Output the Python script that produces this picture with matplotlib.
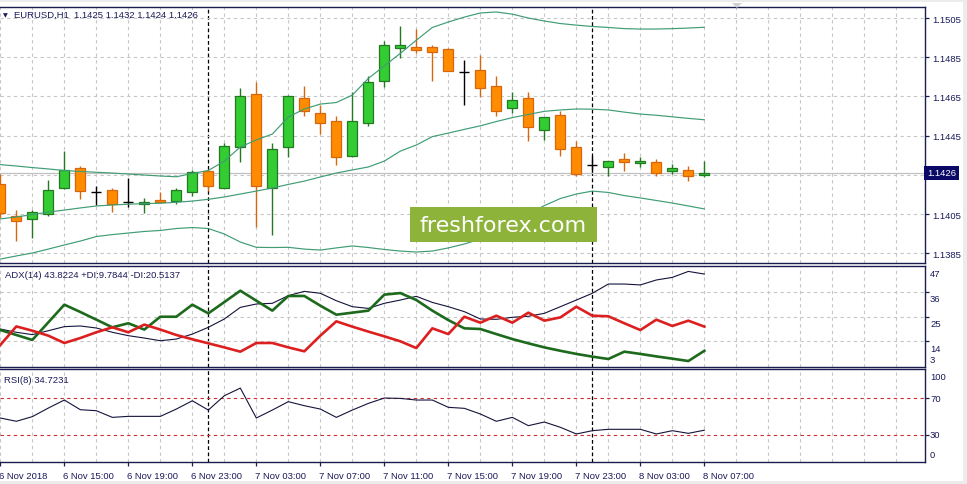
import matplotlib
matplotlib.use("Agg")
import matplotlib.pyplot as plt
import matplotlib.transforms as mtrans
from matplotlib.patches import Rectangle, Polygon

# ---------------- data (EURUSD H1, 6 Nov 11:00 -> 8 Nov 07:00) ----------------
time_labels = ["6 Nov 2018", "6 Nov 15:00", "6 Nov 19:00", "6 Nov 23:00",
               "7 Nov 03:00", "7 Nov 07:00", "7 Nov 11:00", "7 Nov 15:00",
               "7 Nov 19:00", "7 Nov 23:00", "8 Nov 03:00", "8 Nov 07:00"]
label_index = [0, 4, 8, 12, 16, 20, 24, 28, 32, 36, 40, 44]
separator_index = [13, 37]

opens = [1.14203, 1.14041, 1.14023, 1.14050, 1.14181, 1.14283, 1.14164, 1.14171, 1.14110,
         1.14100, 1.14121, 1.14118, 1.14161, 1.14271, 1.14181, 1.14390, 1.14661, 1.14181,
         1.14390, 1.14640, 1.14564, 1.14523, 1.14347, 1.14513, 1.14730, 1.14898, 1.14902,
         1.14902, 1.14892, 1.14773, 1.14785, 1.14702, 1.14589, 1.14642, 1.14480, 1.14555,
         1.14390, 1.14302, 1.14291, 1.14331, 1.14310, 1.14314, 1.14271, 1.14275, 1.14250]
highs = [1.14254, 1.14072, 1.14072, 1.14225, 1.14371, 1.14296, 1.14191, 1.14183, 1.14234,
         1.14130, 1.14164, 1.14183, 1.14276, 1.14276, 1.14411, 1.14693, 1.14722, 1.14411,
         1.14655, 1.14702, 1.14606, 1.14552, 1.14674, 1.14756, 1.14931, 1.15008, 1.14994,
         1.14912, 1.14897, 1.14836, 1.14861, 1.14756, 1.14674, 1.14674, 1.14543, 1.14577,
         1.14421, 1.14344, 1.14319, 1.14360, 1.14342, 1.14331, 1.14305, 1.14296, 1.14320]
lows = [1.14030, 1.13912, 1.13928, 1.14041, 1.14178, 1.14127, 1.14096, 1.14059, 1.14087,
        1.14055, 1.14110, 1.14101, 1.14140, 1.14169, 1.14181, 1.14314, 1.13982, 1.13943,
        1.14339, 1.14552, 1.14458, 1.14302, 1.14339, 1.14500, 1.14700, 1.14844, 1.14870,
        1.14730, 1.14781, 1.14608, 1.14648, 1.14552, 1.14564, 1.14421, 1.14429, 1.14347,
        1.14242, 1.14263, 1.14242, 1.14271, 1.14291, 1.14242, 1.14254, 1.14220, 1.14240]
closes = [1.14055, 1.14013, 1.14059, 1.14172, 1.14273, 1.14169, 1.14164, 1.14101, 1.14110,
          1.14110, 1.14110, 1.14172, 1.14263, 1.14191, 1.14398, 1.14651, 1.14191, 1.14382,
          1.14651, 1.14574, 1.14513, 1.14339, 1.14523, 1.14725, 1.14912, 1.14912, 1.14888,
          1.14878, 1.14781, 1.14773, 1.14691, 1.14577, 1.14632, 1.14492, 1.14543, 1.14382,
          1.14254, 1.14302, 1.14319, 1.14317, 1.14319, 1.14259, 1.14285, 1.14242, 1.14260]

bb_upper = [1.14302, 1.14295, 1.14287, 1.14280, 1.14272, 1.14267, 1.14263, 1.14259, 1.14254,
            1.14249, 1.14244, 1.14240, 1.14257, 1.14272, 1.14320, 1.14392, 1.14428, 1.14458,
            1.14545, 1.14586, 1.14611, 1.14619, 1.14657, 1.14742, 1.14806, 1.14870, 1.14937,
            1.15002, 1.15030, 1.15055, 1.15076, 1.15081, 1.15070, 1.15050, 1.15035, 1.15022,
            1.15014, 1.15007, 1.15002, 1.14996, 1.14994, 1.14994, 1.14996, 1.14999, 1.15003]
bb_middle = [1.14025, 1.14035, 1.14047, 1.14060, 1.14070, 1.14081, 1.14091, 1.14096, 1.14100,
             1.14103, 1.14105, 1.14110, 1.14116, 1.14125, 1.14137, 1.14152, 1.14167, 1.14183,
             1.14201, 1.14218, 1.14239, 1.14259, 1.14275, 1.14290, 1.14320, 1.14371, 1.14402,
             1.14445, 1.14463, 1.14482, 1.14500, 1.14522, 1.14542, 1.14558, 1.14574, 1.14581,
             1.14586, 1.14585, 1.14581, 1.14570, 1.14560, 1.14554, 1.14546, 1.14538, 1.14531]
bb_lower = [1.13820, 1.13836, 1.13851, 1.13871, 1.13892, 1.13912, 1.13935, 1.13945, 1.13953,
            1.13961, 1.13966, 1.13976, 1.13981, 1.13976, 1.13948, 1.13907, 1.13880, 1.13879,
            1.13880, 1.13871, 1.13866, 1.13877, 1.13887, 1.13879, 1.13869, 1.13861, 1.13856,
            1.13861, 1.13877, 1.13897, 1.13922, 1.13953, 1.13994, 1.14050, 1.14093, 1.14129,
            1.14152, 1.14167, 1.14160, 1.14144, 1.14132, 1.14119, 1.14106, 1.14091, 1.14076]

adx = [19.45, 18.0, 16.95, 18.7, 20.5, 20.8, 19.9, 18.0, 16.5, 15.45, 14.25, 15.0, 17.2,
       20.2, 23.9, 29.05, 30.55, 30.85, 34.25, 36.15, 35.3, 32.0, 29.35, 28.6, 30.85, 32.3,
       33.95, 31.25, 29.35, 27.15, 23.9, 23.75, 24.65, 25.1, 26.4, 29.35, 32.3, 35.3, 39.4,
       39.4, 39.0, 41.2, 42.35, 45.0, 43.8224]
plus_di = [19.0, 16.8, 14.6, 22.4, 30.25, 27.0, 23.6, 20.2, 22.0, 19.2, 24.9, 24.9, 30.25,
           26.4, 31.4, 36.45, 32.0, 27.6, 34.1, 34.1, 29.8, 25.8, 26.7, 27.6, 34.7, 35.4,
           32.3, 27.6, 23.4, 19.75, 19.45, 17.2, 15.0, 13.1, 11.3, 9.8, 8.4, 7.2, 6.15, 9.4,
           8.4, 7.3, 6.3, 5.25, 9.7844]
minus_di = [12.35, 20.6, 18.7, 16.5, 13.25, 15.45, 18.0, 20.2, 18.0, 21.4, 19.2, 16.8, 14.9,
            13.1, 11.3, 9.4, 13.25, 13.25, 11.3, 9.55, 16.5, 22.85, 20.5, 18.3, 16.2, 14.0,
            11.0, 19.75, 17.2, 24.9, 22.25, 25.35, 22.25, 26.7, 23.15, 24.6, 29.35, 25.35,
            25.1, 22.0, 19.0, 23.6, 20.8, 23.15, 20.5137]
rsi = [48.1, 44.5, 49.6, 59.0, 67.8, 57.2, 56.1, 48.8, 49.9, 49.9, 49.9, 57.9, 67.0, 56.8,
       72.5, 80.9, 48.1, 56.8, 66.0, 61.6, 57.9, 48.8, 56.8, 64.1, 70.0, 69.6, 67.8, 67.8,
       59.8, 58.7, 52.5, 44.5, 48.8, 39.7, 43.7, 37.9, 30.6, 34.2, 35.7, 35.7, 35.7, 30.6,
       34.2, 31.3, 34.7231]

price_ticks = [1.1385, 1.1405, 1.1425, 1.1445, 1.1465, 1.1485, 1.1505]
price_tick_labels = ["1.1385", "1.1405", "", "1.1445", "1.1465", "1.1485", "1.1505"]
last_price = 1.1426
adx_ticks = [14, 25, 36]
adx_labels = [(47, "47"), (36, "36"), (25, "25"), (14, "14"), (3, "3")]
rsi_levels = [30, 70]
rsi_labels = [(100, "100"), (70, "70"), (30, "30"), (0, "0")]

# ---------------- style ----------------
W, H = 967, 485
NAVY = "#1c1c50"
TXT = "#1a1a5a"
GRID = "#c6c6c6"
FONT = ["Liberation Sans", "DejaVu Sans"]
FS = 6.8
plt.rcParams["font.family"] = FONT

fig = plt.figure(figsize=(W / 100, H / 100), dpi=100)
fig.patch.set_facecolor("white")


def px_axes(x0, y0, x1, y1):
    return fig.add_axes([x0 / W, 1 - y1 / H, (x1 - x0) / W, (y1 - y0) / H])


ax1 = px_axes(0, 7.5, 925, 264)
ax2 = px_axes(0, 267, 925, 368)
ax3 = px_axes(0, 370, 925, 463.3)

n = len(opens)
xs = list(range(n))
XLIM = (-0.02, 57.79)

for ax in (ax1, ax2, ax3):
    ax.set_xlim(*XLIM)
    ax.set_facecolor("white")
    for s in ("left",):
        ax.spines[s].set_visible(False)
    for s in ("top", "right", "bottom"):
        ax.spines[s].set_color(NAVY)
        ax.spines[s].set_linewidth(1.0)
    for g in range(0, 58, 2):
        ax.axvline(g, color=GRID, lw=0.8, ls=(0, (3, 3)), zorder=0)
    for s in separator_index:
        ax.axvline(s, color="black", lw=0.9, ls=(0, (3, 2)), zorder=1)
    ax.yaxis.tick_right()
    ax.tick_params(axis="y", direction="out", length=3, width=0.9, color=NAVY,
                   labelsize=FS, labelcolor=TXT, pad=2.5)
    ax.tick_params(axis="x", length=0, labelbottom=False)

# ---------------- main price panel ----------------
ax1.set_ylim(1.1380, 1.15109)
ax1.set_yticks(price_ticks)
ax1.set_yticklabels(price_tick_labels)
ax1.grid(axis="y", color=GRID, lw=0.8, ls=(0, (3, 3)), zorder=0)
ax1.axhline(last_price, color="#c0c0c0", lw=0.9, zorder=1)

bull_fill, bull_edge = "#33cc33", "#237a23"
bear_fill, bear_edge = "#ff8c00", "#d8660c"
bw = 0.62
for i in xs:
    o, h, l, c = opens[i], highs[i], lows[i], closes[i]
    if c > o:
        ax1.vlines(i, l, h, color=bull_edge, lw=1.0, zorder=3)
        ax1.add_patch(Rectangle((i - bw / 2, o), bw, c - o, fc=bull_fill,
                                ec=bull_edge, lw=0.9, zorder=4))
    elif c < o:
        ax1.vlines(i, l, h, color=bear_edge, lw=1.0, zorder=3)
        ax1.add_patch(Rectangle((i - bw / 2, c), bw, o - c, fc=bear_fill,
                                ec=bear_edge, lw=0.9, zorder=4))
    else:
        ax1.vlines(i, l, h, color="black", lw=1.0, zorder=3)
        ax1.hlines(o, i - bw / 2, i + bw / 2, color="black", lw=1.0, zorder=4)

band_col = "#3f9c74"
for band in (bb_upper, bb_middle, bb_lower):
    ax1.plot(xs, band, color=band_col, lw=0.85, zorder=5)

ax1.text(1.0 + 2 / 925, last_price, "1.1426", transform=mtrans.blended_transform_factory(
    ax1.transAxes, ax1.transData), ha="left", va="center", fontsize=FS, color="white",
    zorder=10, clip_on=False,
    bbox=dict(boxstyle="square,pad=0.28", fc="#0a0a66", ec="none"))

# ---------------- ADX panel ----------------
ax2.set_ylim(2.6, 47.4)
ax2.set_yticks(adx_ticks)
ax2.set_yticklabels([])
ax2.grid(axis="y", color=GRID, lw=0.8, ls=(0, (3, 3)), zorder=0)
ax2.plot(xs, adx, color="#14143c", lw=0.8, zorder=3)
ax2.plot(xs, plus_di, color="#1d6a1d", lw=1.9, zorder=4)
ax2.plot(xs, minus_di, color="#dc2020", lw=1.9, zorder=4)
tr2 = mtrans.blended_transform_factory(ax2.transAxes, ax2.transData)
for v, s in adx_labels:
    dy = -7 if v != 3 else 7
    ax2.text(1.0, v, s, transform=tr2 + mtrans.ScaledTranslation(5 / 100, dy / 100,
             fig.dpi_scale_trans), ha="left", va="center", fontsize=FS, color=TXT,
             clip_on=False)

# ---------------- RSI panel ----------------
ax3.set_ylim(-0.44, 101.8)
ax3.set_yticks(rsi_levels)
ax3.set_yticklabels([])
for lv in rsi_levels:
    ax3.axhline(lv, color="#c83030", lw=0.8, ls=(0, (3, 3)), zorder=2)
ax3.plot(xs, rsi, color="#14143c", lw=0.8, zorder=3)
tr3 = mtrans.blended_transform_factory(ax3.transAxes, ax3.transData)
for v, s in rsi_labels:
    dy = {100: -6, 0: 7}.get(v, 0)
    ax3.text(1.0, v, s, transform=tr3 + mtrans.ScaledTranslation(5 / 100, dy / 100,
             fig.dpi_scale_trans), ha="left", va="center", fontsize=FS, color=TXT,
             clip_on=False)

ax3.set_xticks(label_index)
ax3.set_xticklabels(time_labels)
ax3.tick_params(axis="x", length=3, width=0.9, color=NAVY, direction="out",
                labelbottom=True, labelsize=FS, labelcolor=TXT, pad=3)
for lab in ax3.get_xticklabels():
    lab.set_horizontalalignment("left")
    lab.set_transform(lab.get_transform() + mtrans.ScaledTranslation(-1.5 / 100, 0,
                                                                     fig.dpi_scale_trans))

# ---------------- texts / chrome ----------------
fig.text(3 / W, 1 - 15.5 / H, "\u25BC", fontsize=4.5, color=TXT, va="center",
         family="DejaVu Sans")
fig.text(14 / W, 1 - 15.5 / H, "EURUSD,H1  1.1425 1.1432 1.1424 1.1426", fontsize=FS,
         color=TXT, va="center")
fig.text(5 / W, 1 - 275.5 / H, "ADX(14) 43.8224 +DI:9.7844 -DI:20.5137", fontsize=FS,
         color=TXT, va="center")
fig.text(4 / W, 1 - 380.5 / H, "RSI(8) 34.7231", fontsize=FS, color=TXT, va="center")

# watermark
fig.add_artist(Rectangle((410 / W, 1 - 243 / H), 187 / W, 35 / H, transform=fig.transFigure,
                         fc="#8db33b", ec="none", zorder=20))
fig.text(503.5 / W, 1 - 226 / H, "freshforex.com", fontsize=16, color="white",
         ha="center", va="center", family="DejaVu Sans", zorder=21)

# window chrome
fig.add_artist(Rectangle((0, 1 - 3 / H), 1, 3 / H, transform=fig.transFigure,
                         fc="#ececec", ec="none", zorder=-1))
fig.add_artist(Rectangle((963 / W, 0), 4 / W, 1, transform=fig.transFigure,
                         fc="#ececec", ec="none", zorder=-1))
fig.add_artist(Rectangle((0, 0), 1, 3 / H, transform=fig.transFigure,
                         fc="#ececec", ec="none", zorder=-1))
fig.add_artist(Polygon([(732 / W, 1 - 4 / H), (742 / W, 1 - 4 / H), (737 / W, 1 - 9 / H)],
                       closed=True, transform=fig.transFigure, fc="#d0d0d0", ec="none"))

fig.savefig("out.png", dpi=100)
